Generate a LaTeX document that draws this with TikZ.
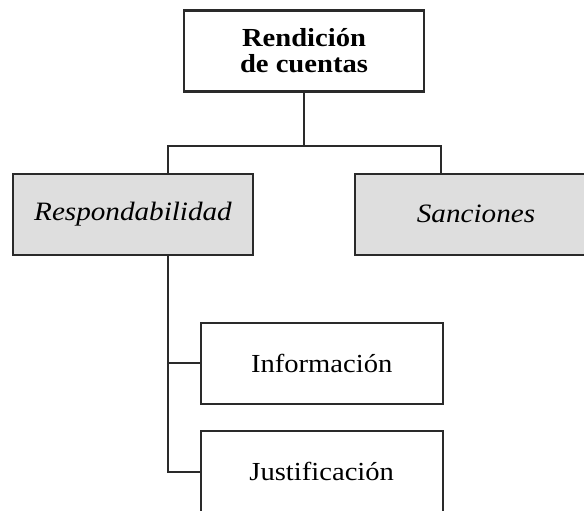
\documentclass[tikz,border=0pt]{standalone}
\usepackage{fontspec}
\setmainfont[FakeStretch=1.1]{Liberation Serif}
\definecolor{boxline}{HTML}{2A2A2A}
\definecolor{boxfill}{HTML}{DEDEDE}
\tikzset{
  box/.style={draw=boxline, line width=2.2pt, minimum width=240pt, minimum height=81pt, inner sep=0pt, anchor=center, align=center, font=\fontsize{26}{27}\selectfont},
  shaded/.style={box, fill=boxfill, font=\itshape\fontsize{26.5}{27}\selectfont},
  conn/.style={draw=boxline, line width=2pt}
}
\begin{document}
\begin{tikzpicture}[x=1pt,y=-1pt]
\useasboundingbox (0,0) rectangle (584,511);
\clip (0,0) rectangle (584,511);
\node[box, font=\bfseries\fontsize{26}{26}\selectfont] (top) at (304,51.1) {Rendición\\de cuentas};
\node[shaded] (resp) at (133,214.2) {Respondabilidad};
\node[shaded, minimum width=242pt] (sanc) at (476,214.2) {Sanciones};
\node[box, minimum width=242pt] (info) at (321.7,363.3) {Información};
\node[box, minimum width=242pt] (just) at (321.7,471.7) {Justificación};
\coordinate (jl) at (167.5,146);
\coordinate (jr) at (441,146);
\draw[conn] (top.south) -- (top.south |- jl);
\draw[conn] (jl |- resp.north) -- (jl) -- (jr) -- (jr |- sanc.north);
\draw[conn] (jl |- resp.south) -- (jl |- just.west) -- (just.west);
\draw[conn] (jl |- info.west) -- (info.west);
\end{tikzpicture}
\end{document}
